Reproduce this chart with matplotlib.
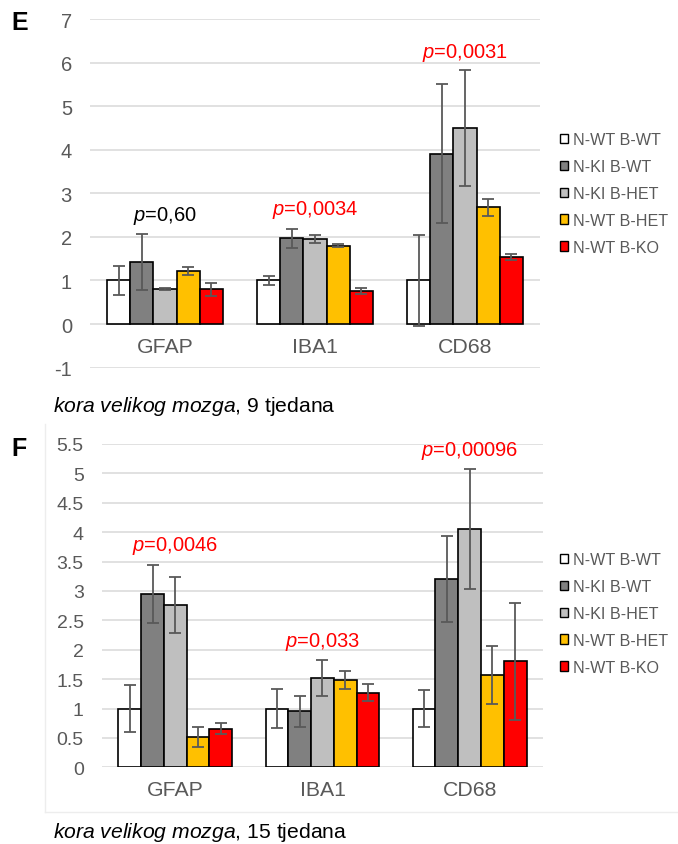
import numpy as np
import matplotlib
matplotlib.use("Agg")
import matplotlib.pyplot as plt
from matplotlib.patches import Patch
from matplotlib.lines import Line2D

plt.rcParams['font.family'] = ['Liberation Sans', 'DejaVu Sans']
plt.rcParams['mathtext.fontset'] = 'custom'
plt.rcParams['mathtext.rm'] = 'Liberation Sans'
plt.rcParams['mathtext.it'] = 'Liberation Sans:italic'

# data
markers = ['GFAP', 'IBA1', 'CD68']
groups = ['N-WT B-WT', 'N-KI B-WT', 'N-KI B-HET', 'N-WT B-HET', 'N-WT B-KO']
colors = ['#FFFFFF', '#808080', '#BFBFBF', '#FFC000', '#FF0000']

# 9 weeks (panel E), rows = groups, cols = markers
e_vals = [[1.0, 1.0, 1.0],
          [1.43, 1.97, 3.91],
          [0.80, 1.95, 4.49],
          [1.22, 1.80, 2.68],
          [0.80, 0.76, 1.54]]
e_errs = [[0.33, 0.10, 1.04],
          [0.64, 0.22, 1.60],
          [0.03, 0.10, 1.33],
          [0.10, 0.03, 0.20],
          [0.15, 0.07, 0.07]]
e_pvals = ['0,60', '0,0034', '0,0031']
e_pcolors = ['black', 'red', 'red']
e_py = [2.5, 2.64, 6.24]

# 15 weeks (panel F)
f_vals = [[1.0, 1.0, 1.0],
          [2.95, 0.95, 3.20],
          [2.76, 1.52, 4.06],
          [0.52, 1.49, 1.57],
          [0.66, 1.27, 1.80]]
f_errs = [[0.40, 0.33, 0.32],
          [0.49, 0.26, 0.73],
          [0.47, 0.31, 1.02],
          [0.17, 0.15, 0.49],
          [0.10, 0.14, 0.99]]
f_pvals = ['0,0046', '0,033', '0,00096']
f_pcolors = ['red', 'red', 'red']
f_py = [3.78, 2.15, 5.40]

GRAY = '#595959'
W, H = 678, 845


def draw_panel(ax, vals, errs, pvals, pcolors, py, ylim, yticks, yticklabels, ysize):
    x = np.arange(len(markers))
    w = 0.1547
    for i, g in enumerate(groups):
        pos = x + (i - 2) * w
        ax.bar(pos, vals[i], w, color=colors[i], edgecolor='black', linewidth=1.2, zorder=3)
        ax.errorbar(pos, vals[i], yerr=errs[i], fmt='none', ecolor=GRAY,
                    elinewidth=1.3, capsize=4, capthick=1.3, zorder=4)
    ax.set_xlim(-0.5, len(markers) - 0.5)
    ax.set_ylim(*ylim)
    ax.set_yticks(yticks)
    ax.set_yticklabels(yticklabels)
    ax.yaxis.grid(True, color='#D9D9D9', linewidth=1.1, zorder=0)
    ax.set_axisbelow(True)
    for s in ax.spines.values():
        s.set_visible(False)
    ax.spines['bottom'].set_position(('data', 0))
    ax.set_xticks(x)
    ax.set_xticklabels(markers)
    ax.tick_params(axis='both', length=0, colors=GRAY)
    ax.tick_params(axis='y', labelsize=ysize, pad=13)
    ax.tick_params(axis='x', labelsize=15.3, pad=9.5)
    for j in range(len(markers)):
        ax.text(x[j], py[j], r'$\it{p}$=' + pvals[j], color=pcolors[j],
                fontsize=14.5, ha='center', va='center', zorder=5)


fig = plt.figure(figsize=(6.78, 8.45), dpi=100)

ax1 = fig.add_axes([90 / W, 1 - 368.6 / H, 450 / W, 348.6 / H])
draw_panel(ax1, e_vals, e_errs, e_pvals, e_pcolors, e_py, (-1, 7),
           np.arange(-1, 8), [str(v) for v in range(-1, 8)], 14.5)

ax2 = fig.add_axes([101.7 / W, 1 - 768.3 / H, 441.5 / W, 323.3 / H])
ticks2 = np.arange(0, 5.51, 0.5)
draw_panel(ax2, f_vals, f_errs, f_pvals, f_pcolors, f_py, (0, 5.5),
           ticks2, ['%g' % t for t in ticks2], 14)

# faint chart-area border of panel F
fig.add_artist(Line2D([45 / W, 45 / W], [1 - 425 / H, 1 - 813 / H], color='#EDEDED', lw=1))
fig.add_artist(Line2D([45 / W, 1], [1 - 813 / H, 1 - 813 / H], color='#EDEDED', lw=1))

handles = [Patch(facecolor=c, edgecolor='black', linewidth=1.0) for c in colors]
for ytop in (133 / H, 553 / H):
    leg = fig.legend(handles, groups, loc='upper left', bbox_to_anchor=(560 / W, 1 - ytop),
                     frameon=False, fontsize=11.6, handlelength=0.5, handleheight=0.5,
                     handletextpad=0.3, labelspacing=0.74, borderpad=0, borderaxespad=0)
    for t in leg.get_texts():
        t.set_color(GRAY)

fig.text(11 / W, 1 - 22.5 / H, 'E', fontsize=18, fontweight='bold', va='center', ha='left')
fig.text(11 / W, 1 - 449 / H, 'F', fontsize=18, fontweight='bold', va='center', ha='left')

fig.text(53 / W, 1 - 407 / H, r'$\it{kora\ velikog\ mozga}$, 9 tjedana',
         fontsize=15.2, va='center', ha='left')
fig.text(53 / W, 1 - 833 / H, r'$\it{kora\ velikog\ mozga}$, 15 tjedana',
         fontsize=15.2, va='center', ha='left')

fig.savefig('out.png', dpi=100)
